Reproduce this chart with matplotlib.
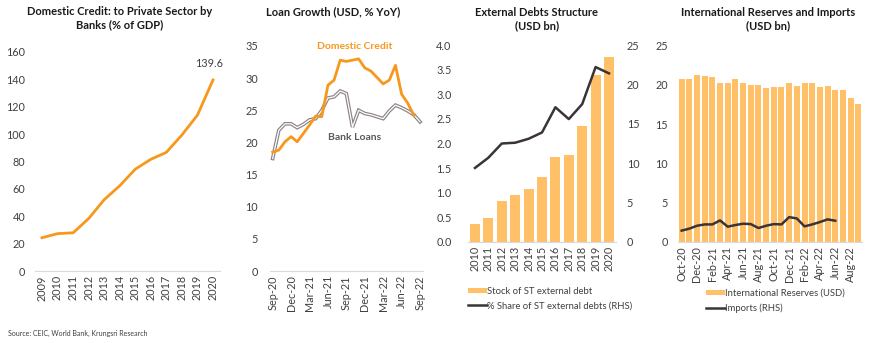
import matplotlib.pyplot as plt
import numpy as np

plt.rcParams['font.family'] = ['Lato', 'DejaVu Sans']

# panel 1: domestic credit to private sector (% of GDP)
years1 = ['2009', '2010', '2011', '2012', '2013', '2014', '2015', '2016', '2017', '2018', '2019', '2020']
credit_gdp = [24.3, 27.3, 27.9, 38.3, 52.1, 62.3, 74.4, 81.6, 86.7, 99.4, 113.9, 139.6]

# panel 2: loan growth (USD, % YoY), Sep-20 .. Sep-22
months2 = ['Sep-20', 'Oct-20', 'Nov-20', 'Dec-20', 'Jan-21', 'Feb-21', 'Mar-21', 'Apr-21', 'May-21',
           'Jun-21', 'Jul-21', 'Aug-21', 'Sep-21', 'Oct-21', 'Nov-21', 'Dec-21', 'Jan-22', 'Feb-22',
           'Mar-22', 'Apr-22', 'May-22', 'Jun-22', 'Jul-22', 'Aug-22', 'Sep-22']
dom_credit = [18.5, 18.8, 20.1, 20.9, 20.1, 21.4, 22.7, 24.1, 24.0, 28.9, 29.7, 32.8, 32.6, 32.8,
              33.0, 31.6, 31.1, 30.1, 29.1, 29.7, 32.0, 27.5, 26.1, 24.2]
bank_loans = [17.5, 21.9, 22.9, 22.9, 22.3, 22.8, 23.5, 23.7, 25.0, 26.9, 27.1, 28.0, 27.6, 22.4,
              25.0, 24.5, 24.3, 24.0, 23.7, 24.9, 25.8, 25.4, 24.9, 24.3, 23.2]

# panel 3: external debts structure
years3 = ['2010', '2011', '2012', '2013', '2014', '2015', '2016', '2017', '2018', '2019', '2020']
st_debt = [0.37, 0.49, 0.84, 0.96, 1.08, 1.31, 1.72, 1.76, 2.35, 3.40, 3.76]
st_share = [9.4, 10.7, 12.5, 12.6, 13.1, 13.9, 17.1, 15.6, 17.5, 22.2, 21.4]

# panel 4: international reserves and imports, Oct-20 .. Sep-22
months4 = ['Oct-20', 'Nov-20', 'Dec-20', 'Jan-21', 'Feb-21', 'Mar-21', 'Apr-21', 'May-21', 'Jun-21',
           'Jul-21', 'Aug-21', 'Sep-21', 'Oct-21', 'Nov-21', 'Dec-21', 'Jan-22', 'Feb-22', 'Mar-22',
           'Apr-22', 'May-22', 'Jun-22', 'Jul-22', 'Aug-22', 'Sep-22']
reserves = [20.8, 20.8, 21.3, 21.1, 21.0, 20.2, 20.3, 20.7, 20.2, 20.0, 20.0, 19.6, 19.7, 19.7,
            20.2, 19.9, 20.2, 20.3, 19.7, 19.9, 19.4, 19.3, 18.4, 17.6]
imports = [1.45, 1.7, 2.07, 2.24, 2.24, 2.75, 1.95, 2.16, 2.33, 2.28, 1.78, 2.07, 2.28, 2.24,
           3.17, 3.0, 1.99, 2.24, 2.54, 2.88, 2.71]

ORANGE = '#F7981D'
BAR = '#FFC068'
DARK = '#3A3436'
TXT = '#404040'
W, H = 870, 343

fig = plt.figure(figsize=(8.7, 3.43), dpi=100)


def box(left, right, bottom, top):
    # pixel box -> figure fraction
    return [left / W, 1 - bottom / H, (right - left) / W, (bottom - top) / H]


def style(ax, ypad):
    for s in ['top', 'right', 'left']:
        ax.spines[s].set_visible(False)
    ax.spines['bottom'].set_color('#D9D9D9')
    ax.tick_params(length=0, labelsize=7.8, colors=TXT, pad=3)
    ax.tick_params(axis='y', pad=ypad)
    ax.set_facecolor('none')


leg_kw = dict(frameon=False, fontsize=6.8, labelcolor=TXT, handlelength=2.0, handleheight=0.5,
              handletextpad=0.05, labelspacing=0.6, borderaxespad=0, loc='upper left')

# ---- panel 1
ax1 = fig.add_axes(box(35, 220, 271, 52))
x1 = np.arange(len(years1))
ax1.plot(x1, credit_gdp, color=ORANGE, lw=2)
ax1.set_xlim(-0.45, len(years1) - 0.55)
ax1.set_ylim(0, 160)
ax1.set_yticks(range(0, 161, 20))
ax1.set_xticks(x1)
ax1.set_xticklabels(years1, rotation=90)
style(ax1, 7)
ax1.annotate(f'{credit_gdp[-1]}', (x1[-1], credit_gdp[-1]), xytext=(-3, 8), textcoords='offset points',
             ha='center', va='bottom', fontsize=7.8, color=TXT)
fig.text(120 / W, 1 - 18 / H, 'Domestic Credit: to Private Sector by\nBanks (% of GDP)', ha='center',
         va='center', fontsize=8, fontweight='bold', color='#1a1a1a', linespacing=1.3)

# ---- panel 2
ax2 = fig.add_axes(box(269.6, 423.1, 271, 46))
x2 = np.arange(len(months2))
ax2.plot(x2, bank_loans, color='#8C8385', lw=2.6, solid_joinstyle='miter')
ax2.plot(x2, bank_loans, color='white', lw=0.9)
ax2.plot(x2[:len(dom_credit)], dom_credit, color=ORANGE, lw=2)
ax2.set_xlim(-0.5, len(months2) - 0.5)
ax2.set_ylim(0, 35)
ax2.set_yticks(range(0, 36, 5))
ax2.set_xticks(x2[::3])
ax2.set_xticklabels(months2[::3], rotation=90)
style(ax2, 8.5)
ax2.text(13.4, 34.9, 'Domestic Credit', color=ORANGE, fontsize=7.5, fontweight='bold', ha='center', va='center')
ax2.text(13.4, 20.8, 'Bank Loans', color='#595959', fontsize=7.5, fontweight='bold', ha='center', va='center')
fig.text(333 / W, 1 - 12 / H, 'Loan Growth (USD, % YoY)', ha='center', va='center', fontsize=8,
         fontweight='bold', color='#1a1a1a')

# ---- panel 3
ax3 = fig.add_axes(box(468.3, 615.7, 242, 45))
x3 = np.arange(len(years3))
bars3 = ax3.bar(x3, st_debt, width=0.75, color=BAR, label='Stock of ST external debt')
ax3.set_xlim(-0.5, len(years3) - 0.5)
ax3.set_ylim(0, 4.0)
ax3.set_yticks(np.arange(0, 4.01, 0.5))
ax3.set_yticklabels([f'{v:.1f}' for v in np.arange(0, 4.01, 0.5)])
ax3.set_xticks(x3)
ax3.set_xticklabels(years3, rotation=90)
style(ax3, 12)
ax3r = ax3.twinx()
line3, = ax3r.plot(x3, st_share, color=DARK, lw=1.8, label='% Share of ST external debts (RHS)')
ax3r.set_ylim(0, 25)
ax3r.set_yticks(range(0, 26, 5))
for s in ['top', 'right', 'left', 'bottom']:
    ax3r.spines[s].set_visible(False)
ax3r.tick_params(length=0, labelsize=7.8, colors=TXT, pad=8)
fig.legend([bars3, line3], [bars3.get_label(), line3.get_label()],
           bbox_to_anchor=(464 / W, 1 - 283 / H), **leg_kw)
fig.text(537 / W, 1 - 19 / H, 'External Debts Structure\n(USD bn)', ha='center', va='center', fontsize=8,
         fontweight='bold', color='#1a1a1a', linespacing=1.3)

# ---- panel 4
ax4 = fig.add_axes(box(677.8, 862.1, 242, 45.7))
x4 = np.arange(len(months4))
bars4 = ax4.bar(x4, reserves, width=0.78, color=BAR, label='International Reserves (USD)')
line4, = ax4.plot(x4[:len(imports)], imports, color=DARK, lw=1.8, label='Imports (RHS)')
ax4.set_xlim(-0.5, len(months4) - 0.5)
ax4.set_ylim(0, 25)
ax4.set_yticks(range(0, 26, 5))
ax4.set_xticks(x4[::2])
ax4.set_xticklabels(months4[::2], rotation=90)
style(ax4, 7)
fig.legend([bars4, line4], [bars4.get_label(), line4.get_label()],
           bbox_to_anchor=(702 / W, 1 - 285 / H), **leg_kw)
fig.text(768 / W, 1 - 19 / H, 'International Reserves and Imports\n(USD bn)', ha='center', va='center',
         fontsize=8, fontweight='bold', color='#1a1a1a', linespacing=1.3)

fig.text(8 / W, 1 - 333 / H, 'Source: CEIC, World Bank, Krungsri Research', fontsize=5, color=TXT,
         va='center')

fig.savefig('out.png', dpi=100)
